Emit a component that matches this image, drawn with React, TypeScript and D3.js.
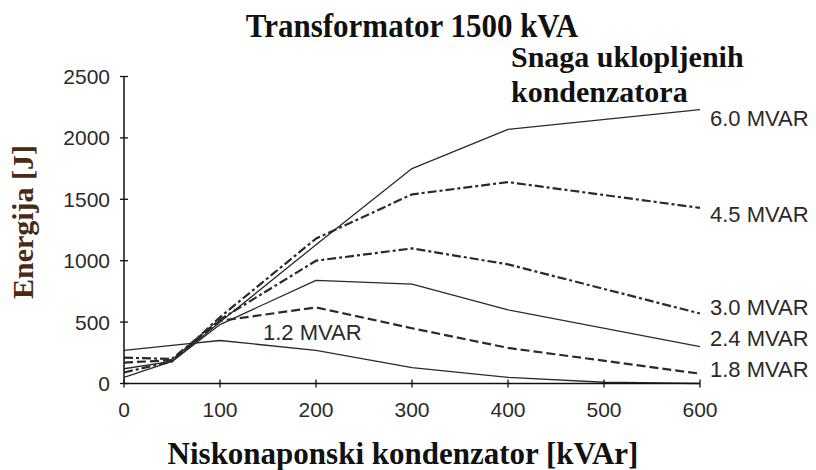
import React from "react";
import * as d3 from "d3";

const xValues = [0, 50, 100, 200, 300, 400, 600];
const xValues12 = [0, 50, 100, 200, 300, 400, 500, 600];
const s60 = [50, 180, 500, 1130, 1750, 2070, 2230];
const s45 = [90, 180, 540, 1180, 1540, 1640, 1430];
const s30 = [210, 200, 520, 1000, 1100, 970, 570];
const s24 = [120, 180, 480, 840, 810, 600, 300];
const s18 = [170, 190, 510, 620, 450, 290, 80];
const s12 = [270, 310, 350, 270, 130, 50, 10, 0];
const seriesNames = ["6.0 MVAR", "4.5 MVAR", "3.0 MVAR", "2.4 MVAR", "1.8 MVAR", "1.2 MVAR"];
const xTicks = [0, 100, 200, 300, 400, 500, 600];
const yTicks = [0, 500, 1000, 1500, 2000, 2500];

const W = 816;
const H = 470;
const x = d3.scaleLinear().domain([0, 600]).range([124, 700]);
const y = d3.scaleLinear().domain([0, 2500]).range([383.5, 76.5]);

const SERIF = "'Liberation Serif', 'Times New Roman', serif";
const SANS = "'Liberation Sans', Arial, sans-serif";

export default function App() {
  const mk = (xs: number[], ys: number[]) =>
    d3
      .line<number>()
      .x((_, i) => x(xs[i]))
      .y((d) => y(d))(ys) as string;

  const series = [
    { xs: xValues, ys: s60, dash: undefined, w: 1.3 },
    { xs: xValues, ys: s45, dash: "9,3,3,3", w: 2.2 },
    { xs: xValues, ys: s30, dash: "9,3,3,3", w: 2.2 },
    { xs: xValues, ys: s24, dash: undefined, w: 1.3 },
    { xs: xValues, ys: s18, dash: "9,4", w: 2.2 },
    { xs: xValues12, ys: s12, dash: undefined, w: 1.3 },
  ];

  const labelPos = [
    [710, 126],
    [710, 222],
    [710, 315],
    [710, 346],
    [710, 377],
    [263, 340],
  ];

  return (
    <svg
      width={W}
      height={H}
      style={{ position: "absolute", left: 0, top: 0, background: "#fff" }}
    >
      <rect width={W} height={H} fill="#fff" />
      {series.map((s, i) => (
        <path
          key={i}
          d={mk(s.xs, s.ys)}
          fill="none"
          stroke="#2a2a2a"
          strokeWidth={s.w}
          strokeDasharray={s.dash}
          strokeLinejoin="round"
        />
      ))}
      <line x1={x(0)} x2={x(0)} y1={y(2500)} y2={y(0)} stroke="#111" strokeWidth={1.5} />
      {yTicks.map((t) => (
        <g key={t}>
          <line x1={x(0) - 4} x2={x(0) + 4} y1={y(t)} y2={y(t)} stroke="#111" strokeWidth={1.3} />
          <text
            x={110}
            y={y(t)}
            dy="0.36em"
            textAnchor="end"
            fontFamily={SANS}
            fontSize={21}
            fill="#2a2a2a"
          >
            {t}
          </text>
        </g>
      ))}
      <line x1={x(0)} x2={x(600)} y1={y(0)} y2={y(0)} stroke="#111" strokeWidth={1.5} />
      {xTicks.map((t) => (
        <g key={t}>
          <line x1={x(t)} x2={x(t)} y1={y(0) - 4} y2={y(0) + 4} stroke="#111" strokeWidth={1.3} />
          <text
            x={x(t)}
            y={417}
            textAnchor="middle"
            fontFamily={SANS}
            fontSize={21}
            fill="#2a2a2a"
          >
            {t}
          </text>
        </g>
      ))}
      {seriesNames.map((n, i) => (
        <text
          key={n}
          x={labelPos[i][0]}
          y={labelPos[i][1]}
          fontFamily={SANS}
          fontSize={22}
          fill="#2a2a2a"
        >
          {n}
        </text>
      ))}
      <text
        transform="translate(412,37) scale(1,1.07)"
        textAnchor="middle"
        fontFamily={SERIF}
        fontWeight="bold"
        fontSize={31}
        fill="#111"
      >
        Transformator 1500 kVA
      </text>
      <text x={511} y={67} fontFamily={SERIF} fontWeight="bold" fontSize={30} fill="#111">
        Snaga uklopljenih
      </text>
      <text x={511} y={102} fontFamily={SERIF} fontWeight="bold" fontSize={30} fill="#111">
        kondenzatora
      </text>
      <text
        x={403}
        y={464}
        textAnchor="middle"
        fontFamily={SERIF}
        fontWeight="bold"
        fontSize={31}
        fill="#111"
      >
        Niskonaponski kondenzator [kVAr]
      </text>
      <text
        transform="translate(33,222) rotate(-90)"
        textAnchor="middle"
        fontFamily={SERIF}
        fontWeight="bold"
        fontSize={30}
        fill="#4a2a12"
      >
        Energija [J]
      </text>
    </svg>
  );
}
